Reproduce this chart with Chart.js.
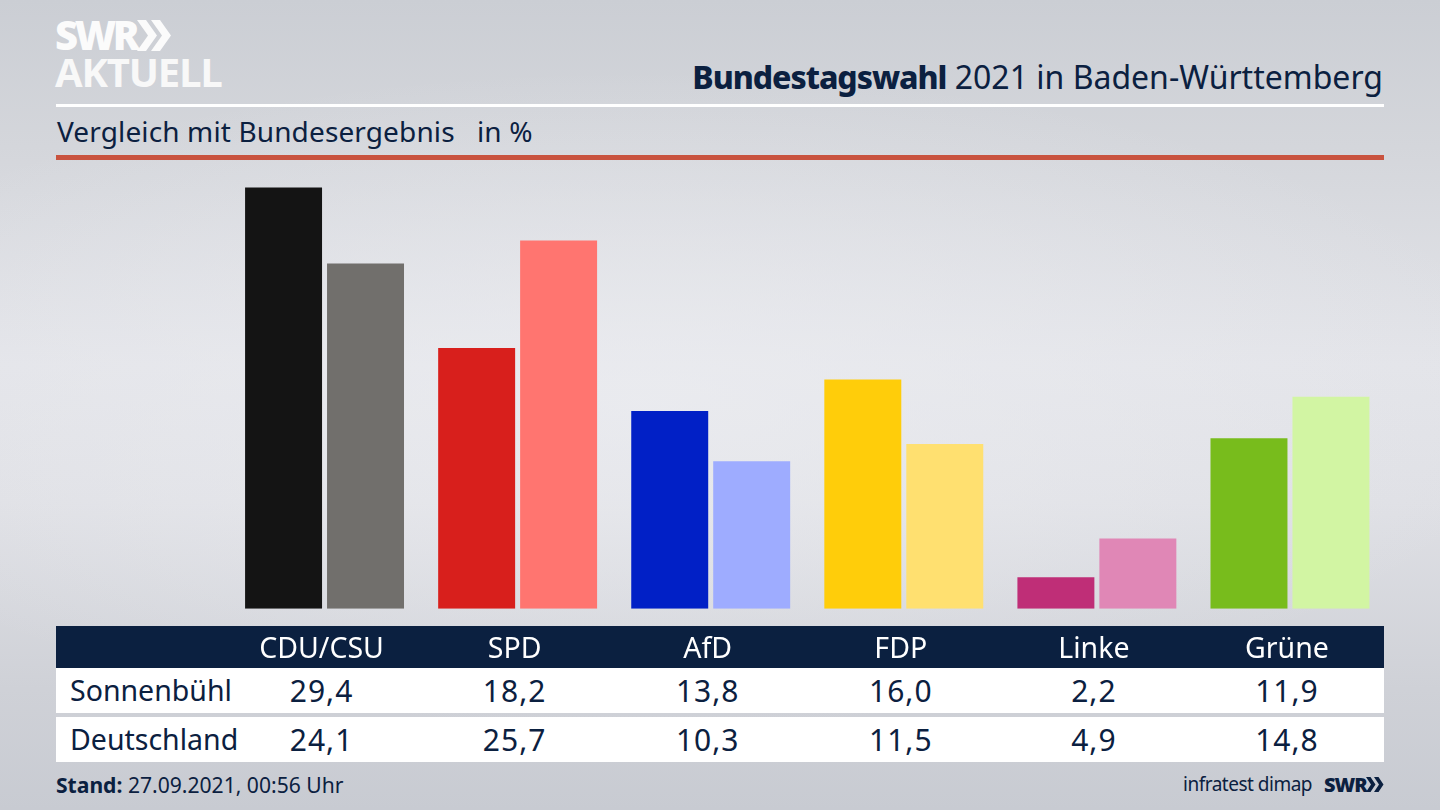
<!DOCTYPE html>
<html lang="de">
<head>
<meta charset="utf-8">
<title>Bundestagswahl 2021 in Baden-Württemberg</title>
<script src="https://cdn.jsdelivr.net/npm/chart.js@4/dist/chart.umd.min.js"></script>
<style>
html,body{margin:0;padding:0;width:1440px;height:810px;overflow:hidden}
body{position:relative;font-family:"Noto Sans",sans-serif;color:#0b2040;
background:
 radial-gradient(ellipse 900px 330px at 640px 400px,rgba(236,237,241,.75),rgba(236,237,241,0) 100%),
 linear-gradient(180deg,#cbced4 0%,#d4d6db 18%,#e3e4e9 45%,#dfe0e5 62%,#cfd1d7 85%,#c8cbd2 100%);}
.abs{position:absolute;white-space:nowrap}
#logo1{left:55px;top:11px;font:800 40px/48px "Open Sans",sans-serif;color:#fbfbfb;letter-spacing:-3.4px}
#logo2{left:55px;top:48px;font:700 40px/48px "Open Sans",sans-serif;color:#f8f8f8;letter-spacing:-1.2px}
#title{right:57px;top:55px;font-size:32px;line-height:44px}
#title b{font-weight:800;letter-spacing:-1.05px}
#sub{left:57px;top:111px;font-size:28px;line-height:40px;letter-spacing:.13px}
#white{left:56px;top:104px;width:1328px;height:3px;background:#fff}
#red{left:56px;top:155px;width:1328px;height:5px;background:#c9533f}
#band{left:56px;top:625.500px;width:1328px;height:42.500px;background:#0b2040}
.row{left:56px;width:1328px;height:45px;background:#fff;font-size:30px;line-height:45px;letter-spacing:1px}
.row span{position:absolute;top:0;transform:translateX(-50%)}
.row span.name{left:14px;transform:none;font-size:28.5px;letter-spacing:0;top:0}
#stand{left:56px;top:770px;font-size:21.1px;line-height:30px}
#src{right:128px;top:769px;font-size:19px;line-height:30px;letter-spacing:-.5px}
#swr{left:1324px;top:770px;font:800 20px/30px "Open Sans",sans-serif;letter-spacing:-1px}
svg.abs{overflow:visible}
canvas{position:absolute;left:0;top:0}
</style>
</head>
<body>
<div class="abs" id="logo1">SWR</div>
<svg class="abs" style="left:137px;top:20px" width="34" height="32"><path d="M0 0h9l11 15.500-11 15.500h-9l11-15.500zM14 0h9l11 15.500-11 15.500h-9l11-15.500z" fill="#fbfbfb"/></svg>
<div class="abs" id="logo2">AKTUELL</div>
<div class="abs" id="title"><b>Bundestagswahl</b> 2021 in Baden-Württemberg</div>
<div class="abs" id="white"></div>
<div class="abs" id="sub">Vergleich mit Bundesergebnis&nbsp;&nbsp; in %</div>
<div class="abs" id="red"></div>
<div class="abs" id="band"></div>
<div class="abs row" id="row0" style="top:668px"></div>
<div class="abs row" id="row1" style="top:717px"></div>
<div class="abs" id="stand"><b>Stand:</b> 27.09.2021, 00:56 Uhr</div>
<div class="abs" id="src">infratest dimap</div>
<div class="abs" id="swr">SWR</div>
<svg class="abs" style="left:1366px;top:777px" width="18" height="16"><path d="M0 0h4.500l5 7.500-5 7.500h-4.500l5-7.500zM8 0h4.500l5 7.500-5 7.500h-4.500l5-7.500z" fill="#0b2040"/></svg>
<canvas id="c" width="1440" height="810"></canvas>
<script>
const categories = ["CDU/CSU","SPD","AfD","FDP","Linke","Grüne"];
const sonnenbuehl = [29.4,18.2,13.8,16.0,2.2,11.9];
const deutschland = [24.1,25.7,10.3,11.5,4.9,14.8];
const colorsLocal = ["#141414","#d81f1c","#0120c6","#ffcd0a","#bf2e77","#78bc1c"];
const colorsNational = ["#716f6c","#ff7570","#9eacff","#ffe070","#e087b6","#d2f5a3"];
const rowNames = ["Sonnenbühl","Deutschland"];

const chart = new Chart(document.getElementById("c"),{
  type:"bar",
  data:{labels:categories,datasets:[
    {label:rowNames[0],data:sonnenbuehl,backgroundColor:colorsLocal,categoryPercentage:.849,barPercentage:.939},
    {label:rowNames[1],data:deutschland,backgroundColor:colorsNational,categoryPercentage:.849,barPercentage:.939}
  ]},
  options:{
    responsive:false,animation:false,devicePixelRatio:1,
    layout:{padding:{left:228,right:53.5,top:179,bottom:127}},
    plugins:{legend:{display:false},tooltip:{enabled:false}},
    scales:{
      y:{display:false,min:0,max:30},
      x:{grid:{display:false},border:{display:false},
         ticks:{color:"#fff",labelOffset:-3,padding:16,maxRotation:0,
                font:{family:"Noto Sans",size:28.5,lineHeight:1.2}}}
    }
  }
});
const fmt=v=>v.toLocaleString("de-DE",{minimumFractionDigits:1,maximumFractionDigits:1});
[sonnenbuehl,deutschland].forEach((vals,r)=>{
  const row=document.getElementById("row"+r);
  const n=document.createElement("span");n.className="name";n.textContent=rowNames[r];row.appendChild(n);
  vals.forEach((v,i)=>{
    const s=document.createElement("span");s.textContent=fmt(v);
    s.style.left=(chart.scales.x.getPixelForTick(i)-3-56)+"px";row.appendChild(s);
  });
});
</script>
</body>
</html>
